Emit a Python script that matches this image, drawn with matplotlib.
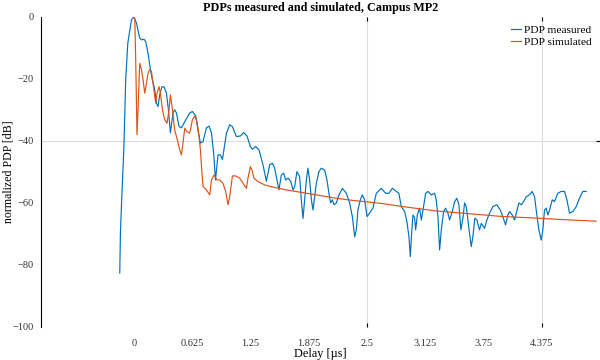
import numpy as np
import matplotlib.pyplot as plt
from matplotlib.ticker import FixedLocator

# measured PDP (delay in us, normalized power in dB)
meas_t = [-0.150, -0.143, -0.132, -0.107, -0.086, -0.064, -0.025, 0.000, 0.029, 0.064,
          0.083, 0.110, 0.129, 0.153, 0.179, 0.200, 0.225, 0.243, 0.260, 0.279,
          0.303, 0.325, 0.350, 0.372, 0.393, 0.421, 0.439, 0.458, 0.486, 0.511,
          0.547, 0.600, 0.629, 0.665, 0.689, 0.715, 0.743, 0.779, 0.807, 0.833,
          0.857, 0.876, 0.904, 0.929, 0.951, 0.994, 1.029, 1.058, 1.101, 1.144,
          1.179, 1.214, 1.251, 1.272, 1.308, 1.343, 1.386, 1.422, 1.458, 1.487,
          1.511, 1.536, 1.557, 1.583, 1.608, 1.629, 1.654, 1.683, 1.708, 1.726,
          1.750, 1.779, 1.797, 1.815, 1.833, 1.851, 1.868, 1.886, 1.905, 1.922,
          1.940, 1.958, 1.986, 2.012, 2.047, 2.072, 2.093, 2.111, 2.130, 2.147,
          2.173, 2.201, 2.237, 2.280, 2.315, 2.344, 2.369, 2.387, 2.404, 2.430,
          2.451, 2.476, 2.501, 2.529, 2.565, 2.601, 2.655, 2.701, 2.736, 2.773,
          2.816, 2.843, 2.869, 2.905, 2.929, 2.951, 2.966, 2.980, 2.994, 3.012,
          3.023, 3.041, 3.065, 3.084, 3.108, 3.130, 3.154, 3.191, 3.226, 3.244,
          3.262, 3.280, 3.298, 3.323, 3.344, 3.369, 3.387, 3.416, 3.441, 3.465,
          3.487, 3.508, 3.530, 3.548, 3.566, 3.594, 3.619, 3.637, 3.658, 3.680,
          3.708, 3.727, 3.762, 3.787, 3.816, 3.851, 3.894, 3.930, 3.958, 3.987,
          4.012, 4.030, 4.059, 4.084, 4.102, 4.130, 4.156, 4.180, 4.209, 4.244,
          4.273, 4.298, 4.316, 4.344, 4.370, 4.387, 4.405, 4.423, 4.441, 4.459,
          4.488, 4.512, 4.548, 4.584, 4.620, 4.645, 4.673, 4.709, 4.745, 4.780,
          4.816, 4.852]
meas_db = [-82.6, -69.7, -61.0, -43.0, -20.0, -8.5, -1.0, 0.0, -2.0, -6.8,
           -7.4, -7.2, -8.0, -11.7, -17.0, -20.3, -23.5, -27.8, -28.9, -25.0,
           -22.5, -22.6, -24.5, -30.0, -37.4, -31.0, -30.0, -31.0, -35.4, -35.8,
           -33.8, -31.0, -30.5, -32.0, -36.5, -40.7, -40.2, -35.8, -35.2, -37.4,
           -43.9, -52.6, -44.5, -44.5, -46.0, -37.5, -34.8, -35.4, -38.6, -38.4,
           -37.3, -38.4, -41.8, -42.7, -41.8, -42.9, -47.7, -53.0, -47.7, -47.2,
           -48.8, -52.6, -55.8, -51.0, -50.4, -52.6, -52.0, -53.0, -55.8, -54.7,
           -49.9, -51.5, -59.0, -65.0, -59.0, -52.6, -48.8, -52.6, -59.0, -62.3,
           -58.0, -53.7, -49.9, -48.8, -49.4, -52.6, -56.9, -60.0, -59.0, -60.6,
           -60.0, -57.4, -55.3, -56.9, -60.0, -64.4, -70.9, -68.7, -62.3, -59.0,
           -57.4, -59.0, -64.4, -63.3, -61.7, -56.9, -55.3, -56.9, -56.9, -55.3,
           -56.3, -56.9, -61.2, -62.8, -66.0, -70.9, -77.3, -69.8, -63.9, -64.9,
           -68.7, -63.9, -61.7, -65.5, -61.2, -56.9, -56.3, -57.4, -56.9, -59.0,
           -64.4, -75.2, -68.7, -62.8, -61.7, -63.3, -65.5, -62.8, -59.6, -58.5,
           -60.6, -68.7, -64.9, -60.0, -61.2, -68.2, -74.1, -70.9, -64.9, -65.5,
           -68.7, -66.6, -68.2, -65.5, -63.3, -61.2, -60.6, -62.3, -64.4, -67.1,
           -63.9, -62.8, -63.9, -65.5, -63.3, -60.0, -60.6, -59.6, -58.0, -57.4,
           -56.3, -58.0, -62.3, -68.7, -72.0, -68.7, -62.3, -61.7, -63.9, -62.3,
           -59.0, -59.6, -56.9, -56.3, -56.3, -59.0, -63.3, -62.8, -61.2, -58.5,
           -56.3, -56.3]

# simulated PDP
sim_t = [0.011, 0.021, 0.035, 0.046, 0.064, 0.083, 0.100, 0.118, 0.136, 0.153,
         0.171, 0.190, 0.207, 0.225, 0.236, 0.250, 0.271, 0.286, 0.308, 0.332,
         0.357, 0.378, 0.393, 0.415, 0.439, 0.468, 0.493, 0.511, 0.528, 0.547,
         0.571, 0.600, 0.629, 0.654, 0.678, 0.700, 0.715, 0.729, 0.743, 0.779,
         0.815, 0.833, 0.861, 0.893, 0.922, 0.957, 0.986, 1.011, 1.029, 1.058,
         1.093, 1.136, 1.172, 1.208, 1.225, 1.251, 1.268, 1.289, 1.332, 1.404,
         1.493, 1.637, 1.815, 1.994, 2.173, 2.350, 2.637, 2.886, 3.244, 3.601,
         3.958, 4.316, 4.673, 4.959]
sim_db = [-0.4, -13.9, -38.0, -30.0, -15.0, -17.0, -20.3, -24.6, -21.4, -18.2,
          -17.0, -17.6, -21.4, -25.7, -27.8, -24.6, -22.5, -24.6, -30.0, -33.2,
          -34.3, -30.0, -25.2, -30.0, -36.5, -39.7, -42.9, -44.5, -40.7, -35.9,
          -37.0, -37.5, -33.2, -32.0, -33.8, -38.6, -42.9, -49.4, -54.7, -55.8,
          -57.4, -52.6, -51.0, -52.6, -52.6, -53.7, -56.3, -60.6, -58.0, -51.3,
          -51.3, -52.0, -53.7, -55.3, -52.0, -48.3, -49.4, -52.0, -53.1, -54.2,
          -54.9, -55.8, -56.7, -57.6, -58.5, -59.2, -60.1, -61.2, -62.6, -63.5,
          -64.4, -64.9, -65.5, -65.9]

x_ticks = [0, 0.625, 1.25, 1.875, 2.5, 3.125, 3.75, 4.375]
x_tick_labels = ['0', '0.625', '1.25', '1.875', '2.5', '3.125', '3.75', '4.375']
y_ticks = [0, -20, -40, -60, -80, -100]
x_grid = [2.5, 4.375]
y_grid = [-40]

plt.rcParams['font.family'] = ['Liberation Serif', 'DejaVu Serif']

fig = plt.figure(figsize=(6, 3.6), dpi=100)
ax = fig.add_axes([0.0675, 0.092, 0.9325, 0.861])

ax.plot(meas_t, meas_db, color='#0072BD', lw=0.85, label='PDP measured')
ax.plot(sim_t, sim_db, color='#D95319', lw=0.85, label='PDP simulated')

ax.set_xlim(-1.0, 5.0)
ax.set_ylim(-100, 0)

ax.set_xticks(x_ticks)
ax.set_xticklabels(x_tick_labels)
ax.set_yticks(y_ticks)
ax.tick_params(which='major', length=0, labelsize=7.5, colors='#333333')
ax.tick_params(axis='x', which='major', pad=9)
ax.tick_params(axis='y', which='major', pad=5)

# partial grid as in the original export
ax.xaxis.remove_overlapping_locs = False
ax.yaxis.remove_overlapping_locs = False
ax.xaxis.set_minor_locator(FixedLocator(x_grid))
ax.yaxis.set_minor_locator(FixedLocator(y_grid))
ax.tick_params(axis='x', which='minor', direction='in', length=3, width=0.8,
               top=True, bottom=True, color='black')
ax.tick_params(axis='y', which='minor', direction='in', length=3, width=0.8,
               left=False, right=True, color='black')
ax.grid(which='minor', color='#dcdcdc', lw=0.8)
ax.set_axisbelow(True)

for s in ['top', 'right', 'bottom']:
    ax.spines[s].set_visible(False)
ax.spines['left'].set_linewidth(0.8)

ax.set_title("PDPs measured and simulated, Campus MP2", fontsize=8.7,
             fontweight='bold', pad=4)
ax.set_xlabel('Delay [µs]', fontsize=8.8, labelpad=0)
ax.set_ylabel('normalized PDP [dB]', fontsize=8.6, va='center')
ax.yaxis.set_label_coords(-0.058, 0.5)

ax.legend(loc='upper right', fontsize=8.2, frameon=False, handlelength=0.9,
          handletextpad=0.3, borderaxespad=0.3, labelspacing=0.15)

fig.savefig('out.png', dpi=100)
